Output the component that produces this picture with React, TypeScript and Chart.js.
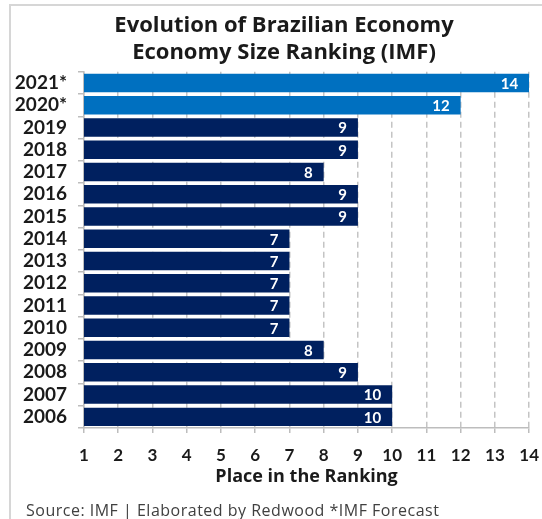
import React, { useEffect, useRef } from "react";
import { Chart, registerables } from "chart.js";

Chart.register(...registerables);

const titleLines = ["Evolution of Brazilian Economy", "Economy Size Ranking (IMF)"];
const years = ["2021*", "2020*", "2019", "2018", "2017", "2016", "2015", "2014", "2013", "2012", "2011", "2010", "2009", "2008", "2007", "2006"];
const ranks = [14, 12, 9, 9, 8, 9, 9, 7, 7, 7, 7, 7, 8, 9, 10, 10];
const isForecast = [true, true, false, false, false, false, false, false, false, false, false, false, false, false, false, false];
const xMin = 1;
const xMax = 14;
const xTitle = "Place in the Ranking";
const sourceText = "Source: IMF | Elaborated by Redwood *IMF Forecast";

const FONT = "Lato, 'Open Sans', sans-serif";
const TITLE_FONT = "'Open Sans', Lato, sans-serif";
const forecastColor = "#0070C0";
const actualColor = "#00205F";

const labelPlugin = {
  id: "barLabels",
  afterDatasetsDraw(chart: any) {
    const ctx = chart.ctx;
    const meta = chart.getDatasetMeta(0);
    ctx.save();
    ctx.fillStyle = "#ffffff";
    ctx.font = `bold 15px ${FONT}`;
    ctx.textAlign = "right";
    ctx.textBaseline = "middle";
    meta.data.forEach((bar: any, i: number) => {
      ctx.fillText(String(ranks[i]), bar.x - 11, bar.y + 1);
    });
    ctx.restore();
  },
};

export default function App() {
  const ref = useRef<HTMLCanvasElement | null>(null);

  useEffect(() => {
    if (!ref.current) return;
    const chart = new Chart(ref.current, {
      type: "bar",
      data: {
        labels: years,
        datasets: [
          {
            data: ranks,
            backgroundColor: isForecast.map((f) => (f ? forecastColor : actualColor)),
            barPercentage: 0.83,
            categoryPercentage: 1,
          },
        ],
      },
      options: {
        indexAxis: "y",
        animation: false,
        responsive: false,
        maintainAspectRatio: false,
        layout: { padding: { top: 0, right: 17, bottom: 31, left: 23 } },
        plugins: {
          legend: { display: false },
          tooltip: { enabled: false },
          title: {
            display: true,
            text: titleLines,
            color: "#1a1a1a",
            font: { family: TITLE_FONT, size: 22, weight: "bold", lineHeight: 1.2 },
            padding: { top: 7, bottom: 6 },
          },
        },
        scales: {
          x: {
            type: "linear",
            min: xMin,
            max: xMax,
            ticks: {
              stepSize: 1,
              color: "#1a1a1a",
              padding: 12,
              font: { family: FONT, size: 17, weight: "bold", lineHeight: 1.2 },
            },
            grid: {
              color: "#c4c4c4",
              lineWidth: 1.5,
              tickLength: 5,
              tickColor: "#bdbdbd",
              tickWidth: 1.5,
            },
            border: { display: true, color: "#bdbdbd", width: 1.5, dash: [6, 4] },
            title: {
              display: true,
              text: xTitle,
              color: "#1a1a1a",
              font: { family: TITLE_FONT, size: 18, weight: "bold", lineHeight: 1.2 },
              padding: { top: 0, bottom: 0 },
            },
            afterFit: (s: any) => {
              s.height = 60;
            },
          },
          y: {
            type: "category",
            ticks: {
              autoSkip: false,
              color: "#1a1a1a",
              padding: 11,
              font: { family: FONT, size: 19, weight: "bold", lineHeight: 1.2 },
            },
            grid: {
              drawOnChartArea: false,
              offset: true,
              tickLength: 6,
              color: "#bdbdbd",
              lineWidth: 1.5,
            },
            border: { display: true, color: "#bdbdbd", width: 1.5 },
            afterFit: (s: any) => {
              s.width = 50;
              s._computeLabelArea = () => undefined;
            },
          },
        },
      },
      plugins: [labelPlugin],
    });
    return () => chart.destroy();
  }, []);

  return (
    <div
      style={{
        position: "absolute",
        left: 9,
        top: 4,
        width: 545,
        height: 530,
        border: "2px solid #d6d6d6",
        background: "#ffffff",
      }}
    >
      <canvas ref={ref} width={540} height={513} style={{ display: "block", width: 540, height: 513 }} />
      <div
        style={{
          position: "absolute",
          left: 15,
          top: 493,
          fontFamily: "'Open Sans', sans-serif",
          fontSize: 16,
          letterSpacing: 0.5,
          color: "#404040",
          whiteSpace: "nowrap",
        }}
      >
        {sourceText}
      </div>
    </div>
  );
}
